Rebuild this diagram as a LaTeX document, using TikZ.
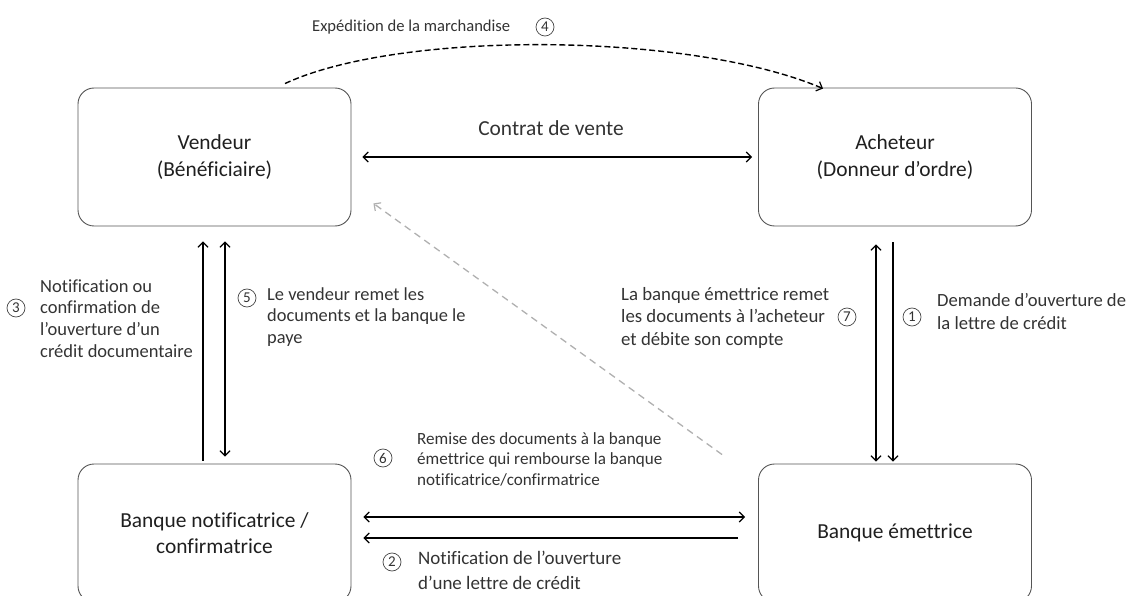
\documentclass[tikz,border=0pt]{standalone}
\usepackage{fontspec}
\setmainfont{Carlito}[Ligatures=NoCommon]
\usetikzlibrary{arrows.meta}
\definecolor{txt}{HTML}{333333}
\definecolor{boxline}{HTML}{555555}
\definecolor{lightdash}{HTML}{B0B0B0}
\begin{document}
\begin{tikzpicture}[x=1pt,y=-1pt,
  box/.style={draw=boxline, line width=0.9pt, rounded corners=16pt,
    minimum width=273pt, minimum height=138pt, align=center, inner sep=0pt,
    font=\fontsize{21.4}{26.5}\selectfont, text=black!88},
  tip/.tip={Straight Barb[length=5pt,width=10pt,line width=1.2pt]},
  arr/.style={line width=1.3pt, -tip},
  dbl/.style={line width=1.3pt, tip-tip},
  lbl/.style={inner sep=0pt, align=left, text=txt, anchor=base west},
  num/.style={circle, draw=txt!90, line width=0.7pt, minimum size=18pt, inner sep=0pt,
    text=txt, font=\fontsize{15}{15}\selectfont}
]
\useasboundingbox (0,0) rectangle (1136,596);
\clip (0,0) rectangle (1136,596);

% boxes
\node[box] (v)  at (214.5,157) {Vendeur\\(Bénéficiaire)};
\node[box] (a)  at (895,157)   {Acheteur\\(Donneur d’ordre)};
\node[box] (bn) at (214.5,533) {Banque notificatrice /\\confirmatrice};
\node[box] (be) at (895,533)   {Banque émettrice};

% contrat de vente
\draw[dbl] ([xshift=11pt]v.east) -- ([xshift=-6pt]a.west);
\node[inner sep=0pt, anchor=base, text=txt, font=\fontsize{21.4}{26}\selectfont] (cdv) at (551,136) {Contrat de vente};

% expedition (dashed curve)
\draw[line width=1.4pt, dash pattern=on 6pt off 3pt, -tip]
  ([xshift=70.5pt,yshift=4pt]v.north) .. controls (400,30) and (690,32) .. ([xshift=-72pt,yshift=-1pt]a.north);
\node[lbl, font=\fontsize{16.6}{20}\selectfont] (l4) at (312,32) {Expédition de la marchandise};
\node[num] (n4) at (545,27) {4};

% left vertical arrows
\draw[arr] ([xshift=-11.5pt,yshift=3pt]bn.north) -- ([xshift=-11.5pt,yshift=-15pt]v.south);
\draw[dbl] ([xshift=10.5pt,yshift=-15pt]v.south) -- ([xshift=10.5pt,yshift=7pt]bn.north);
\node[lbl, font=\fontsize{18.5}{21.8}\selectfont] (l3) at (40,357.5) {Notification ou\\confirmation de\\l’ouverture d’un\\crédit documentaire};
\node[num] (n3) at (16,308) {3};
\node[lbl, font=\fontsize{18.4}{21.5}\selectfont] (l5) at (267,343) {Le vendeur remet les\\documents et la banque le\\paye};
\node[num] (n5) at (247,298) {5};

% right vertical arrows
\draw[dbl] ([xshift=-19pt,yshift=-18pt]a.south) -- ([xshift=-19pt,yshift=2pt]be.north);
\draw[arr] ([xshift=-2pt,yshift=-16pt]a.south) -- ([xshift=-2pt,yshift=2pt]be.north);
\node[lbl, font=\fontsize{18.8}{22.5}\selectfont] (l7) at (621,345) {La banque émettrice remet\\les documents à l’acheteur\\et débite son compte};
\node[num] (n7) at (847,317) {7};
\node[lbl, font=\fontsize{18.6}{23}\selectfont] (l1) at (937,330) {Demande d’ouverture de\\la lettre de crédit};
\node[num] (n1) at (912,317) {1};

% bottom horizontal arrows
\draw[dbl] ([xshift=12pt,yshift=16pt]bn.east) -- ([xshift=-13pt,yshift=16pt]be.west);
\draw[arr] ([xshift=-20pt,yshift=-5pt]be.west) -- ([xshift=12pt,yshift=-5pt]bn.east);
\node[lbl, font=\fontsize{17.1}{20.5}\selectfont] (l6) at (417,485) {Remise des documents à la banque\\émettrice qui rembourse la banque\\notificatrice/confirmatrice};
\node[num] (n6) at (383,458) {6};
\node[lbl, font=\fontsize{19}{25}\selectfont] (l2) at (418,589.5) {Notification de l’ouverture\\d’une lettre de crédit};
\node[num] (n2) at (392,562) {2};

% grey dashed diagonal
\draw[lightdash, line width=1.3pt, dash pattern=on 7pt off 5pt, -tip]
  ([xshift=-36pt,yshift=9pt]be.north west) -- ([xshift=22pt,yshift=23pt]v.south east);
\end{tikzpicture}
\end{document}
